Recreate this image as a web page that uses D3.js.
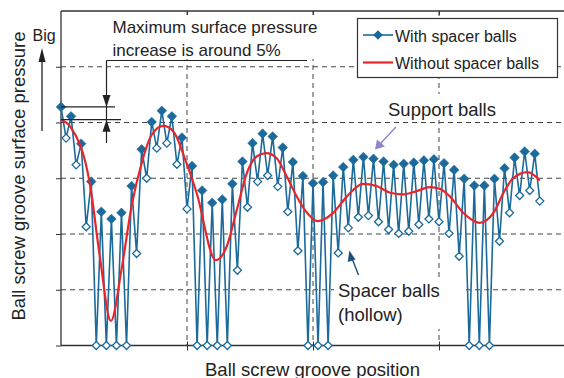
<!DOCTYPE html>
<html>
<head>
<meta charset="utf-8">
<script src="https://cdn.jsdelivr.net/npm/d3@7"></script>
<style>
  body { margin: 0; background: #fff; }
  svg { display: block; font-family: "Liberation Sans", Arial, Helvetica, sans-serif; }
</style>
</head>
<body>
<svg id="chart" width="564" height="378"></svg>
<script>
// support balls (filled) sit on even ball positions, spacer balls (hollow) on odd ones
const supportBalls = [4.28, 4.11, 3.62, 2.94, 2.40, 2.27, 2.38, 2.86, 3.52, 4.01, 4.21, 4.11,
  3.73, 3.22, 2.78, 2.56, 2.62, 2.90, 3.30, 3.63, 3.80, 3.75, 3.55, 3.29,
  3.04, 2.91, 2.93, 3.05, 3.20, 3.33, 3.38, 3.35, 3.30, 3.24, 3.26, 3.28,
  3.32, 3.34, 3.27, 3.15, 2.99, 2.87, 2.87, 2.99, 3.18, 3.37, 3.48, 3.44];
const spacerBalls = [3.72, 3.24, 2.13, 0, 0, 0, 0, 1.65, 3.00, 3.54, 3.63, 3.25,
  2.45, 0, 0, 0, 0, 1.35, 2.48, 2.94, 3.05, 2.85, 2.40, 1.70,
  0, 0, 0, 1.66, 2.11, 2.30, 2.33, 2.22, 2.08, 2.01, 2.05, 2.17,
  2.27, 2.22, 2.01, 1.60, 0, 0, 0, 1.87, 2.38, 2.69, 2.78, 2.59];

// red curve: without spacer balls (position, pressure)
const noSpacerPos = [0, 1.8, 5.8, 7.7, 9.9, 12.0, 14.0, 16.0, 18.0, 20.3, 22.3, 24.9, 26.9,
  30.7, 32.9, 34.9, 36.9, 38.8, 40.7, 42.8, 44.8, 46.8, 48.8, 50.9, 54.0, 56.7,
  59.9, 62.6, 65.3, 67.9, 70.6, 73.2, 75.2, 77.2, 79.8, 83.0, 85.8, 87.8, 89.7, 92.6, 95.0];
const noSpacerVal = [4.05, 3.93, 2.86, 1.60, 0.44, 1.36, 2.50, 3.27, 3.78, 3.94, 3.84, 3.27, 2.74,
  1.53, 1.78, 2.44, 3.10, 3.39, 3.45, 3.36, 3.03, 2.67, 2.38, 2.23, 2.38, 2.67,
  2.90, 2.86, 2.74, 2.71, 2.77, 2.84, 2.81, 2.67, 2.38, 2.20, 2.38, 2.74, 3.00, 3.11, 2.96];

const xTicks = [25, 50, 75];
const yTicks = [1, 2, 3, 4, 5];

const blue = '#1b6a9b';
const red = '#e8252b';
const ink = '#333';

const svg = d3.select('#chart');
const margin = { top: 11, left: 61, bottom: 32.5 };
const width = 564, height = 378;

const x = d3.scaleLinear().domain([0, 100]).range([margin.left, 565]);
const y = d3.scaleLinear().domain([0, 6]).range([height - margin.bottom, margin.top]);

// build the interleaved series
const withSpacer = [];
supportBalls.forEach((v, i) => {
  withSpacer.push({ pos: i * 2, value: v, hollow: false });
  withSpacer.push({ pos: i * 2 + 1, value: spacerBalls[i], hollow: true });
});
const noSpacer = noSpacerPos.map((p, i) => ({ pos: p, value: noSpacerVal[i] }));

// grid
const grid = svg.append('g').attr('stroke', '#444').attr('stroke-width', 1).attr('stroke-dasharray', '5,4');
grid.selectAll('.hg').data(yTicks).enter().append('line')
  .attr('x1', x(0)).attr('x2', width)
  .attr('y1', d => y(d)).attr('y2', d => y(d));
grid.selectAll('.vg').data(xTicks).enter().append('line')
  .attr('x1', d => x(d)).attr('x2', d => x(d))
  .attr('y1', y(6)).attr('y2', y(0));

// frame + ticks
svg.append('g')
  .attr('transform', `translate(${x(0)},0)`)
  .call(d3.axisLeft(y).tickValues([0, ...yTicks]).tickSize(5).tickFormat(''))
  .call(g => g.select('.domain').remove())
  .selectAll('line').attr('stroke', ink);
svg.append('g')
  .attr('transform', `translate(0,${y(0)})`)
  .call(d3.axisBottom(x).tickValues(xTicks).tickSize(5).tickFormat(''))
  .call(g => g.select('.domain').remove())
  .selectAll('line').attr('stroke', ink).attr('y1', -4);
svg.append('g')
  .attr('transform', `translate(0,${y(6)})`)
  .call(d3.axisBottom(x).tickValues(xTicks).tickSize(4).tickFormat(''))
  .call(g => g.select('.domain').remove())
  .selectAll('line').attr('stroke', ink);

const frame = svg.append('g').attr('stroke', ink).attr('stroke-width', 1.3);
frame.append('line').attr('x1', x(0)).attr('x2', x(0)).attr('y1', y(6)).attr('y2', y(0));
frame.append('line').attr('x1', x(0)).attr('x2', width).attr('y1', y(0)).attr('y2', y(0));
frame.append('line').attr('x1', x(0)).attr('x2', width).attr('y1', y(6)).attr('y2', y(6));

// white boxes behind annotation texts
svg.append('rect').attr('x', 108).attr('y', 15).attr('width', 214).attr('height', 44).attr('fill', '#fff');
svg.append('rect').attr('x', 385).attr('y', 94).attr('width', 118).attr('height', 26).attr('fill', '#fff');
svg.append('rect').attr('x', 334).attr('y', 279).attr('width', 128).attr('height', 50).attr('fill', '#fff');

// with spacer balls
svg.append('path')
  .datum(withSpacer)
  .attr('fill', 'none')
  .attr('stroke', blue)
  .attr('stroke-width', 1.6)
  .attr('stroke-linejoin', 'round')
  .attr('d', d3.line().x(d => x(d.pos)).y(d => y(d.value)));

const diamond = r => `M0,${-r}L${r},0L0,${r}L${-r},0Z`;
svg.append('g').selectAll('path')
  .data(withSpacer)
  .enter().append('path')
  .attr('transform', d => `translate(${x(d.pos)},${y(d.value)})`)
  .attr('d', d => diamond(d.hollow ? 4 : 4.8))
  .attr('fill', d => d.hollow ? '#fff' : blue)
  .attr('stroke', blue)
  .attr('stroke-width', d => d.hollow ? 1.3 : 0.6);

// without spacer balls
svg.append('path')
  .datum(noSpacer)
  .attr('fill', 'none')
  .attr('stroke', red)
  .attr('stroke-width', 2.2)
  .attr('d', d3.line().x(d => x(d.pos)).y(d => y(d.value)).curve(d3.curveMonotoneX));

// legend
const legend = svg.append('g');
legend.append('rect').attr('x', 357.5).attr('y', 18.5).attr('width', 200).attr('height', 59)
  .attr('fill', '#fff').attr('stroke', ink).attr('stroke-width', 1.2);
legend.append('line').attr('x1', 363).attr('x2', 393).attr('y1', 35).attr('y2', 35)
  .attr('stroke', blue).attr('stroke-width', 1.6);
legend.append('path').attr('transform', 'translate(378,35)').attr('d', diamond(4.8)).attr('fill', blue);
legend.append('line').attr('x1', 363).attr('x2', 393).attr('y1', 62.5).attr('y2', 62.5)
  .attr('stroke', red).attr('stroke-width', 2.2);
legend.append('text').attr('x', 395).attr('y', 41.5).attr('font-size', 16).attr('fill', '#222').text('With spacer balls');
legend.append('text').attr('x', 395).attr('y', 68.5).attr('font-size', 16).attr('fill', '#222').text('Without spacer balls');

// axis titles
svg.append('text')
  .attr('x', (x(0) + 565) / 2 - 0.5).attr('y', 375.5)
  .attr('text-anchor', 'middle').attr('font-size', 18.5).attr('fill', '#222')
  .text('Ball screw groove position');
svg.append('text')
  .attr('transform', 'translate(24.5,176) rotate(-90)')
  .attr('text-anchor', 'middle').attr('font-size', 18.5).attr('fill', '#222')
  .text('Ball screw groove surface pressure');

// "Big" with upward arrow
svg.append('text').attr('x', 32.5).attr('y', 40.5).attr('font-size', 16).attr('fill', '#222').text('Big');
svg.append('line').attr('x1', 42).attr('x2', 42).attr('y1', 131).attr('y2', 58).attr('stroke', '#222').attr('stroke-width', 1.3);
svg.append('path').attr('d', 'M42,48L45.5,62L38.5,62Z').attr('fill', '#222');

// 5% annotation
const ann = svg.append('g').attr('fill', '#222').attr('font-size', 17);
ann.append('text').attr('x', 112.5).attr('y', 33).text('Maximum surface pressure');
ann.append('text').attr('x', 112.5).attr('y', 55.5).text('increase is around 5%');

const topY = y(supportBalls[0]);
const redY = y(noSpacerVal[0]);
const br = svg.append('g').attr('stroke', '#222').attr('stroke-width', 1.2);
br.append('line').attr('x1', 106.5).attr('x2', 307).attr('y1', 60.5).attr('y2', 60.5);
br.append('line').attr('x1', 106.5).attr('x2', 106.5).attr('y1', 60.5).attr('y2', 143);
br.append('line').attr('x1', x(0)).attr('x2', 115).attr('y1', topY).attr('y2', topY);
br.append('line').attr('x1', x(0)).attr('x2', 121).attr('y1', redY).attr('y2', redY);
svg.append('path').attr('d', `M106.5,${topY}L102.5,${topY - 12}L110.5,${topY - 12}Z`).attr('fill', '#222');
svg.append('path').attr('d', `M106.5,${redY}L102.5,${redY + 12}L110.5,${redY + 12}Z`).attr('fill', '#222');

// support balls label
svg.append('text').attr('x', 388).attr('y', 116).attr('font-size', 18.5).attr('fill', '#222').text('Support balls');
svg.append('line').attr('x1', 396).attr('y1', 127).attr('x2', 380).attr('y2', 144)
  .attr('stroke', '#8e86c8').attr('stroke-width', 1.4);
svg.append('path').attr('d', 'M375,149.5L377,139.5L385,146.5Z').attr('fill', '#8e86c8');

// spacer balls label
svg.append('text').attr('x', 338).attr('y', 297).attr('font-size', 18.5).attr('fill', '#222').text('Spacer balls');
svg.append('text').attr('x', 338).attr('y', 321).attr('font-size', 18.5).attr('fill', '#222').text('(hollow)');
svg.append('line').attr('x1', 358.5).attr('y1', 275).attr('x2', 351.5).attr('y2', 257)
  .attr('stroke', '#1f4f7c').attr('stroke-width', 1.4);
svg.append('path').attr('d', 'M349.3,250.5L355.5,259.5L347.8,262Z').attr('fill', '#1f4f7c');
</script>
</body>
</html>
